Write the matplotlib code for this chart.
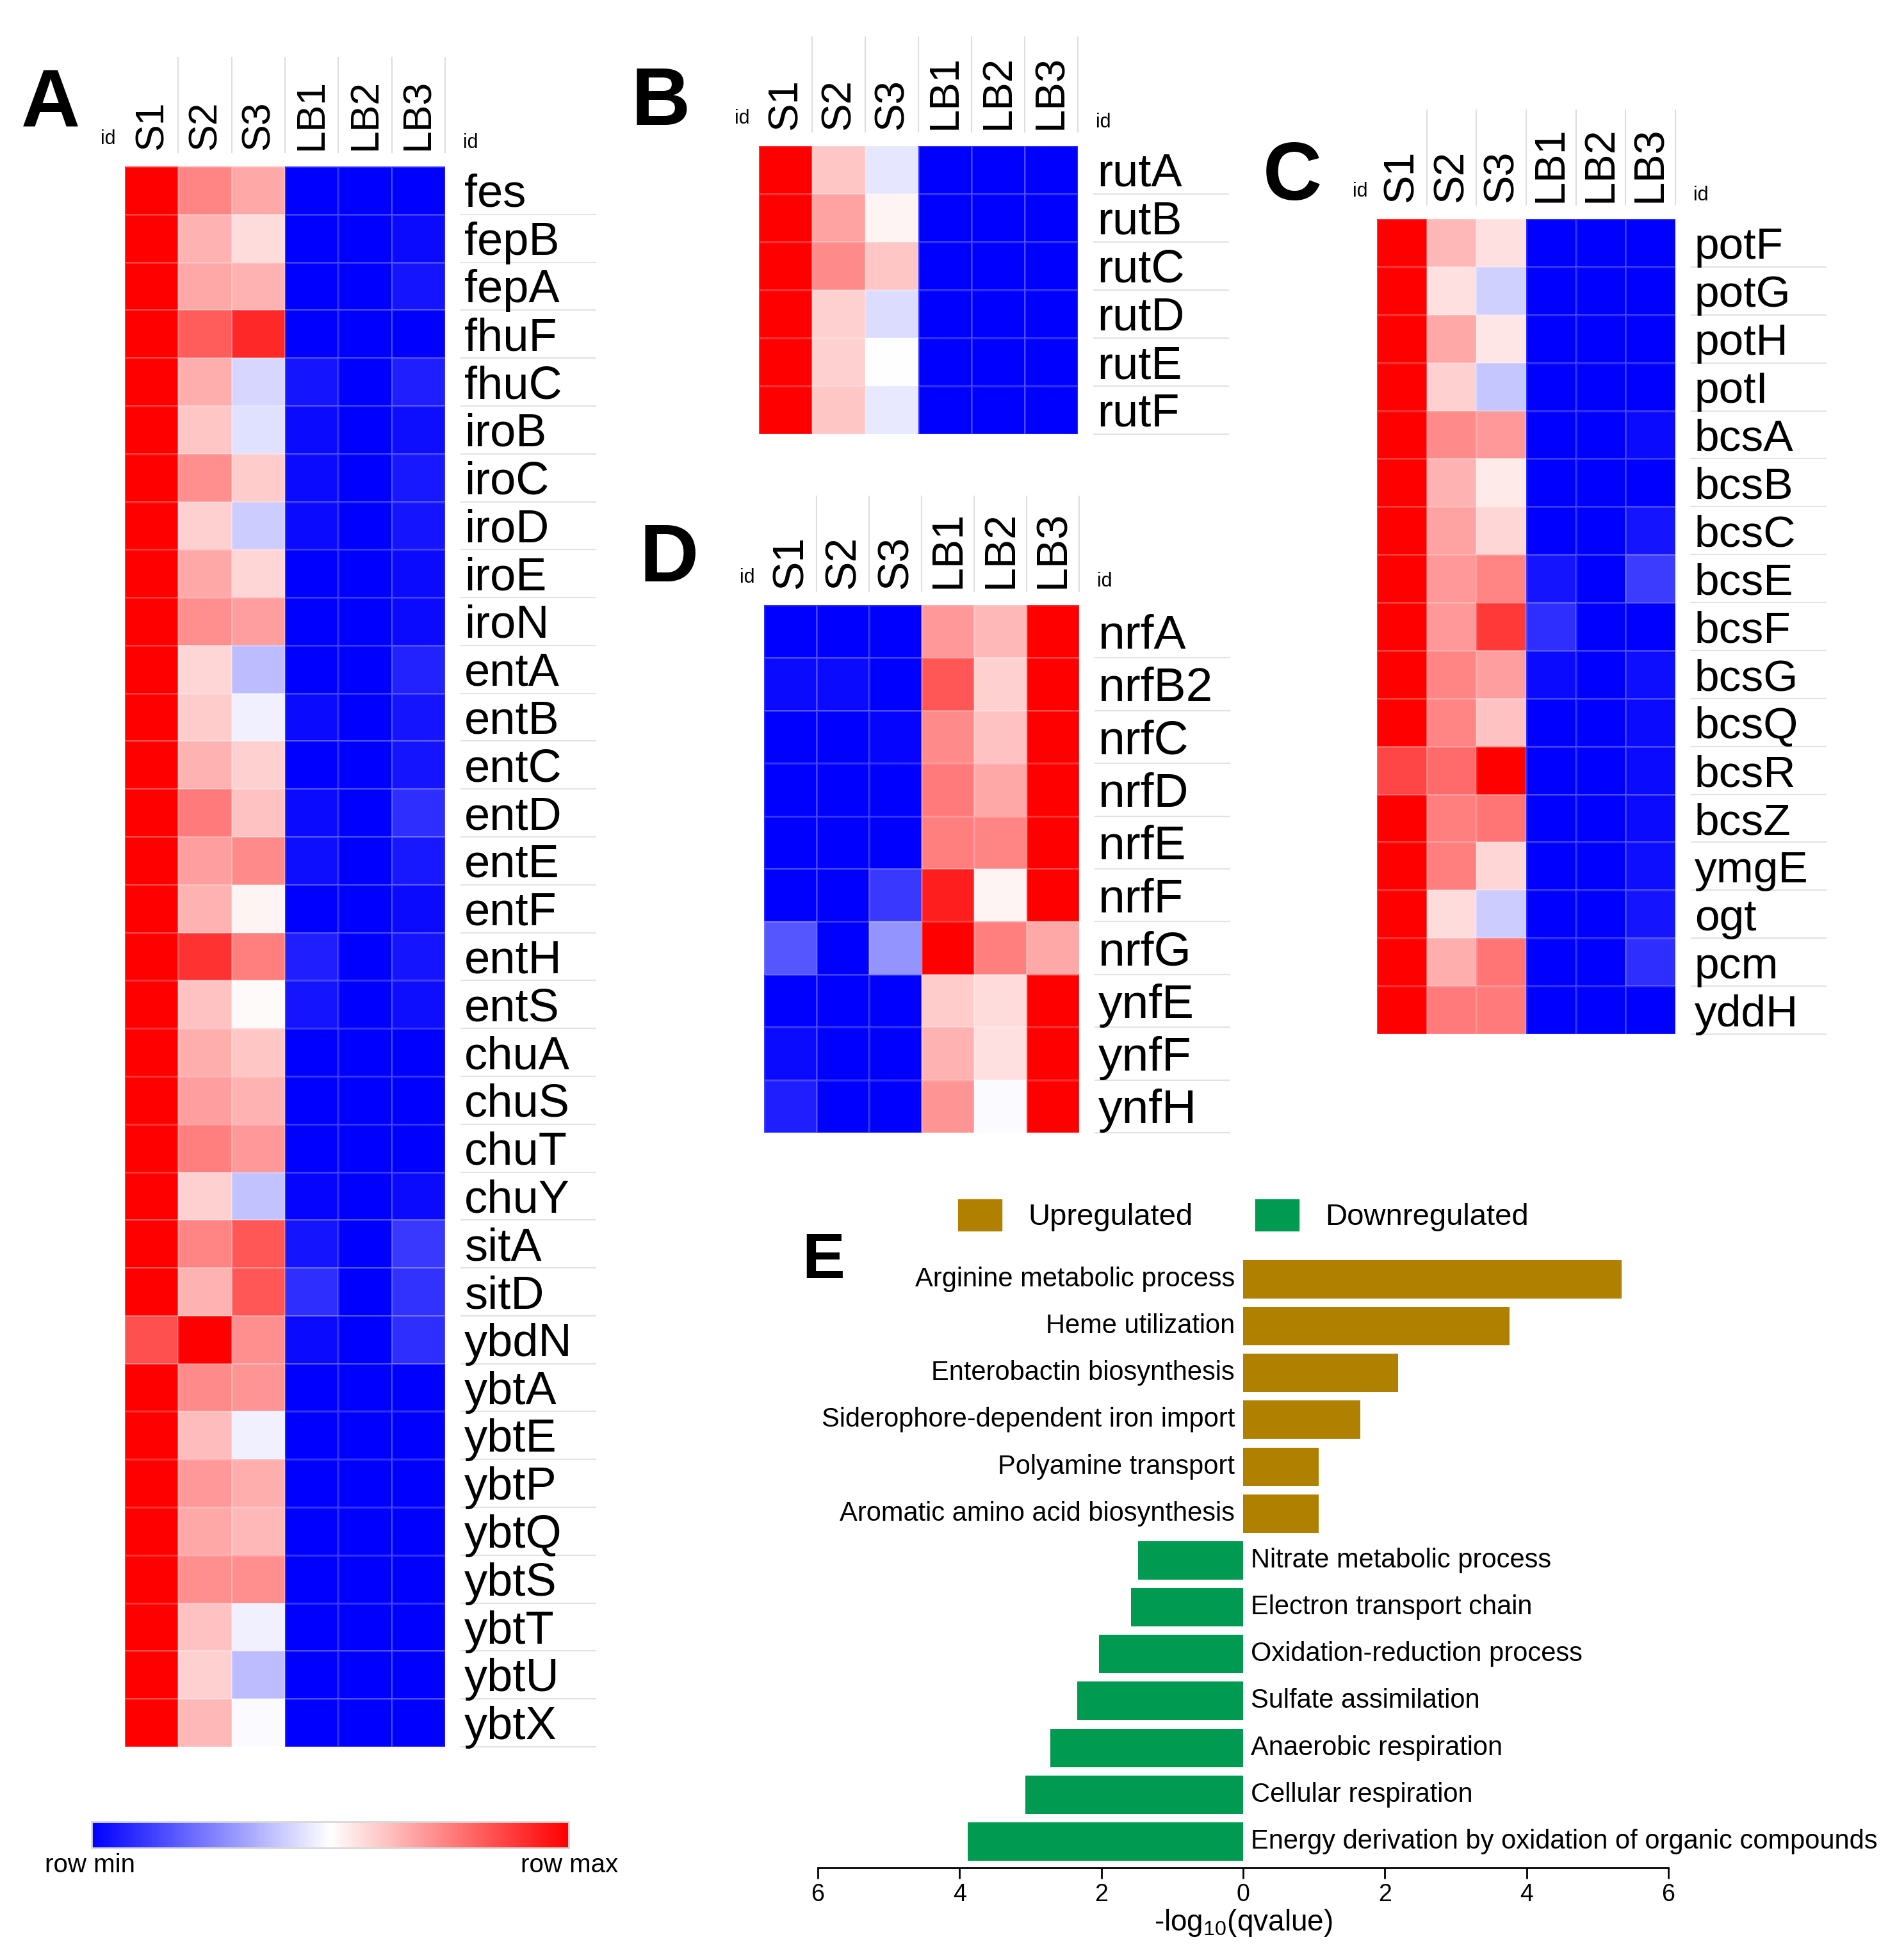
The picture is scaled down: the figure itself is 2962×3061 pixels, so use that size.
import numpy as np
import matplotlib
matplotlib.use('Agg')
import matplotlib.pyplot as plt
import matplotlib.transforms as mtransforms
import matplotlib.patches as mpatches

plt.rcParams['font.family'] = ['Liberation Sans', 'DejaVu Sans']
plt.rcParams['mathtext.fontset'] = 'custom'
plt.rcParams['mathtext.rm'] = 'Liberation Sans'
plt.rcParams['mathtext.default'] = 'regular'

# ---- data (row-scaled expression, 0 = row min, 1 = row max) ----
samples = ['S1', 'S2', 'S3', 'LB1', 'LB2', 'LB3']

a_genes = ['fes', 'fepB', 'fepA', 'fhuF', 'fhuC', 'iroB', 'iroC', 'iroD', 'iroE', 'iroN',
           'entA', 'entB', 'entC', 'entD', 'entE', 'entF', 'entH', 'entS', 'chuA', 'chuS',
           'chuT', 'chuY', 'sitA', 'sitD', 'ybdN', 'ybtA', 'ybtE', 'ybtP', 'ybtQ', 'ybtS',
           'ybtT', 'ybtU', 'ybtX']
a_values = [
    [1.0, 0.74, 0.67, 0.00, 0.00, 0.00],
    [1.0, 0.65, 0.57, 0.00, 0.00, 0.02],
    [1.0, 0.67, 0.65, 0.00, 0.00, 0.04],
    [1.0, 0.82, 0.92, 0.00, 0.00, 0.00],
    [1.0, 0.66, 0.42, 0.04, 0.00, 0.06],
    [1.0, 0.61, 0.44, 0.02, 0.00, 0.03],
    [1.0, 0.72, 0.60, 0.02, 0.00, 0.05],
    [1.0, 0.59, 0.40, 0.02, 0.00, 0.04],
    [1.0, 0.67, 0.58, 0.00, 0.00, 0.02],
    [1.0, 0.72, 0.69, 0.00, 0.00, 0.02],
    [1.0, 0.58, 0.37, 0.00, 0.00, 0.07],
    [1.0, 0.60, 0.47, 0.02, 0.00, 0.04],
    [1.0, 0.65, 0.59, 0.00, 0.00, 0.04],
    [1.0, 0.76, 0.62, 0.02, 0.00, 0.09],
    [1.0, 0.69, 0.73, 0.03, 0.00, 0.05],
    [1.0, 0.65, 0.52, 0.00, 0.00, 0.02],
    [1.0, 0.90, 0.75, 0.06, 0.00, 0.04],
    [1.0, 0.62, 0.51, 0.04, 0.00, 0.03],
    [1.0, 0.66, 0.61, 0.00, 0.00, 0.00],
    [1.0, 0.69, 0.65, 0.00, 0.00, 0.00],
    [1.0, 0.75, 0.70, 0.00, 0.00, 0.00],
    [1.0, 0.59, 0.38, 0.01, 0.00, 0.02],
    [1.0, 0.74, 0.83, 0.04, 0.00, 0.11],
    [1.0, 0.65, 0.83, 0.09, 0.00, 0.10],
    [0.84, 1.0, 0.72, 0.02, 0.00, 0.09],
    [1.0, 0.73, 0.71, 0.00, 0.00, 0.00],
    [1.0, 0.63, 0.47, 0.00, 0.00, 0.00],
    [1.0, 0.70, 0.66, 0.00, 0.00, 0.00],
    [1.0, 0.67, 0.64, 0.00, 0.00, 0.00],
    [1.0, 0.72, 0.72, 0.00, 0.00, 0.00],
    [1.0, 0.62, 0.47, 0.00, 0.00, 0.00],
    [1.0, 0.59, 0.37, 0.00, 0.00, 0.00],
    [1.0, 0.64, 0.49, 0.00, 0.00, 0.00],
]

b_genes = ['rutA', 'rutB', 'rutC', 'rutD', 'rutE', 'rutF']
b_values = [
    [1.0, 0.61, 0.45, 0.0, 0.0, 0.0],
    [1.0, 0.68, 0.52, 0.0, 0.0, 0.0],
    [1.0, 0.73, 0.61, 0.0, 0.0, 0.0],
    [1.0, 0.59, 0.43, 0.0, 0.0, 0.0],
    [1.0, 0.59, 0.50, 0.0, 0.0, 0.0],
    [1.0, 0.61, 0.455, 0.0, 0.0, 0.0],
]

c_genes = ['potF', 'potG', 'potH', 'potI', 'bcsA', 'bcsB', 'bcsC', 'bcsE', 'bcsF', 'bcsG',
           'bcsQ', 'bcsR', 'bcsZ', 'ymgE', 'ogt', 'pcm', 'yddH']
c_values = [
    [1.0, 0.64, 0.56, 0.00, 0.00, 0.00],
    [1.0, 0.56, 0.41, 0.00, 0.00, 0.00],
    [1.0, 0.67, 0.55, 0.00, 0.00, 0.00],
    [1.0, 0.59, 0.39, 0.00, 0.00, 0.00],
    [1.0, 0.73, 0.70, 0.00, 0.00, 0.02],
    [1.0, 0.65, 0.54, 0.00, 0.00, 0.00],
    [1.0, 0.68, 0.58, 0.00, 0.00, 0.04],
    [1.0, 0.70, 0.74, 0.04, 0.00, 0.12],
    [1.0, 0.70, 0.89, 0.09, 0.00, 0.00],
    [1.0, 0.74, 0.69, 0.02, 0.00, 0.03],
    [1.0, 0.74, 0.62, 0.00, 0.00, 0.02],
    [0.86, 0.79, 1.0, 0.00, 0.00, 0.02],
    [1.0, 0.75, 0.77, 0.00, 0.00, 0.02],
    [1.0, 0.75, 0.58, 0.00, 0.00, 0.03],
    [1.0, 0.57, 0.40, 0.00, 0.00, 0.04],
    [1.0, 0.66, 0.77, 0.00, 0.00, 0.09],
    [1.0, 0.76, 0.76, 0.00, 0.00, 0.00],
]

d_genes = ['nrfA', 'nrfB2', 'nrfC', 'nrfD', 'nrfE', 'nrfF', 'nrfG', 'ynfE', 'ynfF', 'ynfH']
d_values = [
    [0.00, 0.00, 0.00, 0.70, 0.64, 1.00],
    [0.02, 0.02, 0.00, 0.83, 0.59, 1.00],
    [0.00, 0.00, 0.01, 0.73, 0.62, 1.00],
    [0.00, 0.00, 0.00, 0.76, 0.67, 1.00],
    [0.00, 0.00, 0.00, 0.75, 0.74, 1.00],
    [0.00, 0.00, 0.11, 0.94, 0.52, 1.00],
    [0.17, 0.00, 0.29, 1.00, 0.75, 0.67],
    [0.00, 0.00, 0.00, 0.60, 0.57, 1.00],
    [0.02, 0.00, 0.00, 0.65, 0.56, 1.00],
    [0.06, 0.00, 0.00, 0.71, 0.49, 1.00],
]

go_terms_up = ['Arginine metabolic process', 'Heme utilization', 'Enterobactin biosynthesis',
               'Siderophore-dependent iron import', 'Polyamine transport',
               'Aromatic amino acid biosynthesis']
go_values_up = [5.34, 3.76, 2.19, 1.65, 1.07, 1.07]
go_terms_down = ['Nitrate metabolic process', 'Electron transport chain',
                 'Oxidation-reduction process', 'Sulfate assimilation', 'Anaerobic respiration',
                 'Cellular respiration', 'Energy derivation by oxidation of organic compounds']
go_values_down = [1.48, 1.58, 2.03, 2.34, 2.72, 3.07, 3.89]

# ---- figure (laid out in pixel units) ----
W, H = 2962, 3061
fig = plt.figure(figsize=(W / 100, H / 100), dpi=100)
fig.patch.set_facecolor('white')


def rect(l, t, r, b):
    return [l / W, 1 - b / H, (r - l) / W, (b - t) / H]


def heat_panel(box, genes, values, col_fs, row_fs):
    l, t, r, b = box
    ax = fig.add_axes(rect(l, t, r, b))
    data = np.array(values)
    ax.pcolormesh(data, cmap='bwr', vmin=0, vmax=1,
                  edgecolors=(1, 1, 1, 0.18), linewidth=1)
    ax.set_xlim(0, len(samples))
    ax.set_ylim(len(genes), 0)
    ax.axis('off')
    ah = b - t
    cw = (r - l) / len(samples)
    xt = ax.get_xaxis_transform()
    # column headers
    head = mtransforms.offset_copy(xt, fig=fig, y=26, units='dots')
    for i, s in enumerate(samples):
        ax.text(i + 0.5, 1, s, transform=head, rotation=90, ha='center', va='bottom',
                fontsize=col_fs)
    for i in range(1, len(samples) + 1):
        ax.plot([i, i], [1 + 22 / ah, 1 + 170 / ah], transform=xt, color='#dedede',
                lw=1.5, clip_on=False)
    ax.text(0, 1, 'id', transform=mtransforms.offset_copy(xt, fig=fig, x=-26, y=28, units='dots'),
            ha='center', va='bottom', fontsize=22)
    ax.text(len(samples), 1, 'id',
            transform=mtransforms.offset_copy(xt, fig=fig, x=28, y=22, units='dots'),
            ha='left', va='bottom', fontsize=22)
    # row labels
    lab = mtransforms.offset_copy(ax.transData, fig=fig, x=30, y=-7, units='dots')
    for j, g in enumerate(genes):
        ax.text(len(samples), j + 0.5, g, transform=lab, ha='left', va='center',
                fontsize=row_fs)
    x0 = len(samples) + 25 / cw
    x1 = len(samples) + 235 / cw
    for j in range(1, len(genes) + 1):
        ax.plot([x0, x1], [j, j], color='#e2e2e2', lw=1.5, clip_on=False)
    return ax


heat_panel((195, 260, 695, 2728), a_genes, a_values, 45, 52)
heat_panel((1185, 228, 1683, 678), b_genes, b_values, 47, 52)
heat_panel((2150, 342, 2616, 1615), c_genes, c_values, 48, 50)
heat_panel((1193, 945, 1685, 1769), d_genes, d_values, 49, 54)

# panel letters
for letter, x, y, fs in [('A', 33, 199, 92), ('B', 986, 195, 92), ('C', 1972, 312, 92),
                         ('D', 998, 908, 92), ('E', 1252, 1996, 72)]:
    fig.text(x / W, 1 - y / H, letter, fontsize=fs, fontweight='heavy', ha='left',
             va='baseline')

# colour scale
cax = fig.add_axes(rect(143, 2845, 888, 2886))
cax.imshow(np.linspace(0, 1, 256)[None, :], aspect='auto', cmap='bwr', vmin=0, vmax=1)
cax.set_xticks([])
cax.set_yticks([])
for sp in cax.spines.values():
    sp.set_color('#d8d8d8')
    sp.set_linewidth(2)
fig.text(141 / W, 1 - 2913 / H, 'row min', ha='center', va='center', fontsize=29)
fig.text(889 / W, 1 - 2913 / H, 'row max', ha='center', va='center', fontsize=29)

# ---- panel E: GO enrichment ----
up_color = '#B08000'
down_color = '#009A50'
axe = fig.add_axes(rect(1277, 1954, 2605, 2917))
terms = go_terms_up + go_terms_down
vals = go_values_up + [-v for v in go_values_down]
colors = [up_color] * len(go_terms_up) + [down_color] * len(go_terms_down)
ypos = np.arange(len(terms))
axe.barh(ypos, vals, height=0.82, color=colors)
axe.set_xlim(-6, 6)
axe.set_ylim(len(terms) - 0.44, -0.6)
for y, term, v in zip(ypos, terms, vals):
    if v > 0:
        axe.annotate(term, xy=(0, y), xytext=(-13, 0), textcoords='offset pixels',
                     ha='right', va='center', fontsize=30)
    else:
        axe.annotate(term, xy=(0, y), xytext=(12, 0), textcoords='offset pixels',
                     ha='left', va='center', fontsize=30)
for sp in ['top', 'right', 'left']:
    axe.spines[sp].set_visible(False)
axe.spines['bottom'].set_linewidth(2)
axe.set_yticks([])
ticks = [-6, -4, -2, 0, 2, 4, 6]
axe.set_xticks(ticks)
axe.set_xticklabels([str(abs(t)) for t in ticks])
axe.tick_params(axis='x', length=12, width=2, labelsize=27, pad=5)
axe.set_xlabel('-log$_{10}$(qvalue)', fontsize=33, labelpad=2)

handles = [mpatches.Patch(color=up_color, label='Upregulated'),
           mpatches.Patch(color=down_color, label='Downregulated')]
fig.legend(handles=handles, loc='center left', bbox_to_anchor=(1496 / W, 1 - 1898 / H),
           ncol=2, frameon=False, fontsize=34, handlelength=1.44, handleheight=1.23,
           handletextpad=0.87, columnspacing=2.07, borderpad=0, borderaxespad=0)

fig.savefig('out.png', dpi=100, facecolor='white')
